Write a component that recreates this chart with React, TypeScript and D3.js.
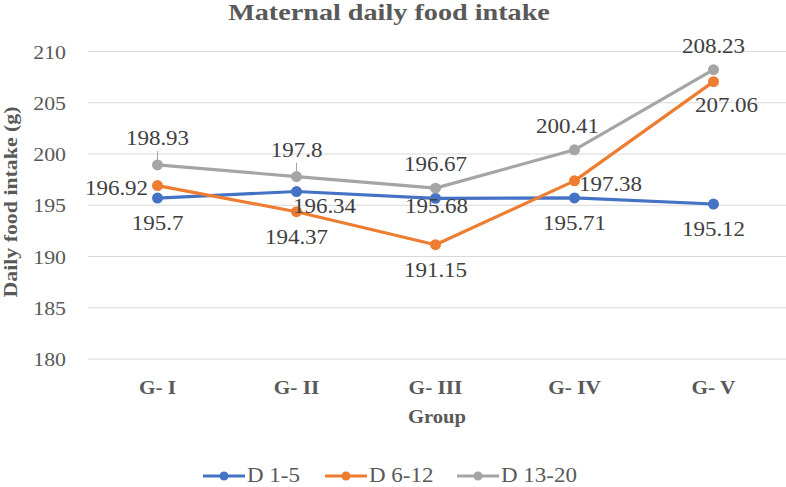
import React from 'react';
import * as d3 from 'd3';

const groups = ['G- I', 'G- II', 'G- III', 'G- IV', 'G- V'];
const yTicks = [180, 185, 190, 195, 200, 205, 210];

const d1to5 = [195.7, 196.34, 195.68, 195.71, 195.12];
const d6to12 = [196.92, 194.37, 191.15, 197.38, 207.06];
const d13to20 = [198.93, 197.8, 196.67, 200.41, 208.23];

// where each data label sits relative to its point
const d1to5Place = ['below', 'belowRight', 'belowNear', 'below', 'below'];
const d6to12Place = ['left', 'below', 'below', 'right', 'belowRight2'];
const d13to20Place = ['aboveLeader', 'aboveLeader', 'above', 'aboveLeft', 'above'];

const series = [
  { name: 'D 1-5', values: d1to5, place: d1to5Place, color: '#4472C4' },
  { name: 'D 6-12', values: d6to12, place: d6to12Place, color: '#ED7D31' },
  { name: 'D 13-20', values: d13to20, place: d13to20Place, color: '#A5A5A5' },
];

const W = 786;
const H = 487;
const font = '"Liberation Serif", "Times New Roman", serif';
const SX = 1.15; // the source text is a little wider than Times

const offsets: Record<string, [number, number]> = {
  above: [0, -17],
  aboveLeader: [0, -20],
  aboveLeft: [-7, -17],
  below: [0, 32],
  belowNear: [1, 15],
  belowRight: [28, 21],
  belowRight2: [13, 30],
  left: [-41, 9],
  right: [36, 10],
};

function T({ x, y, size, bold, anchor = 'middle', fill = '#595959', rotate = 0, sx = SX, children }: any) {
  return (
    <text
      transform={`translate(${x},${y}) rotate(${rotate}) scale(${sx},1)`}
      textAnchor={anchor}
      fontSize={size}
      fontWeight={bold ? 'bold' : 'normal'}
      fill={fill}
    >
      {children}
    </text>
  );
}

export default function App() {
  const x = d3.scaleBand().domain(groups).range([88, 783]);
  const y = d3.scaleLinear().domain([180, 210]).range([359, 51.5]);
  const cx = (g: string) => (x(g) ?? 0) + x.bandwidth() / 2;
  const line = d3.line<number>().x((_, i) => cx(groups[i])).y(d => y(d));

  return (
    <svg width={W} height={H} style={{ position: 'absolute', left: 0, top: 0, background: '#fff' }} fontFamily={font}>
      <T x={389} y={20} size={23.5} sx={1.2} bold>Maternal daily food intake</T>
      {yTicks.map(t => (
        <g key={t}>
          <line x1={88} x2={786} y1={y(t)} y2={y(t)} stroke="#D9D9D9" strokeWidth={1.2} />
          <T x={66} y={y(t) + 7} size={19} anchor="end">{t}</T>
        </g>
      ))}
      {groups.map(g => (
        <T key={g} x={cx(g)} y={394} size={18.5} bold>{g}</T>
      ))}
      <T x={437} y={423} size={18} bold>Group</T>
      <T x={17} y={202} size={19} bold rotate={-90}>Daily food intake (g)</T>
      {series.map(s => (
        <g key={s.name}>
          <path d={line(s.values) ?? ''} fill="none" stroke={s.color} strokeWidth={3.2} strokeLinejoin="round" />
          {s.values.map((v, i) => (
            <circle key={i} cx={cx(groups[i])} cy={y(v)} r={5.5} fill={s.color} />
          ))}
        </g>
      ))}
      {series.map(s =>
        s.values.map((v, i) => {
          const [dx, dy] = offsets[s.place[i]];
          const px = cx(groups[i]);
          return (
            <g key={s.name + i}>
              {s.place[i] === 'aboveLeader' && (
                <line x1={px} x2={px} y1={y(v) - 14} y2={y(v) - 4} stroke="#A5A5A5" strokeWidth={1} />
              )}
              <T x={px + dx} y={y(v) + dy} size={20} fill="#404040">{v}</T>
            </g>
          );
        })
      )}
      {series.map((s, i) => {
        const lx = [203, 325, 457][i];
        return (
          <g key={s.name}>
            <line x1={lx} x2={lx + 42} y1={476} y2={476} stroke={s.color} strokeWidth={3.2} />
            <circle cx={lx + 21} cy={476} r={4.5} fill={s.color} />
            <T x={lx + 44} y={482} size={20} anchor="start">{s.name}</T>
          </g>
        );
      })}
    </svg>
  );
}
